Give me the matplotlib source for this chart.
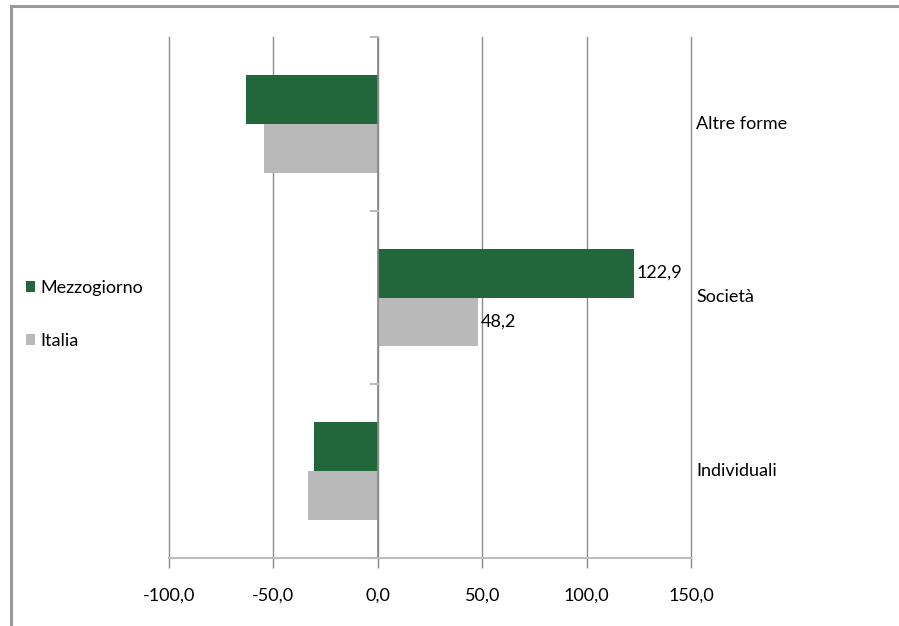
import matplotlib
matplotlib.use("Agg")
import matplotlib.pyplot as plt
from matplotlib.lines import Line2D
from matplotlib.patches import Patch

categories = ["Individuali", "Società", "Altre forme"]
mezzogiorno = [-30.5, 122.9, -63.2]
italia = [-33.5, 48.2, -54.7]
series_names = ["Mezzogiorno", "Italia"]
xticks = [-100, -50, 0, 50, 100, 150]
xtick_labels = ["-100,0", "-50,0", "0,0", "50,0", "100,0", "150,0"]

plt.rcParams['font.family'] = ['Lato', 'DejaVu Sans']
FS = 13

W, H = 899, 626
fig = plt.figure(figsize=(W / 100, H / 100), dpi=100)
fig.patch.set_facecolor("white")

# outer frame (left and top visible)
fig.add_artist(Line2D([10.5 / W, 10.5 / W], [0, 1 - 5.5 / H], transform=fig.transFigure,
                      color="#9a9a9a", lw=2.2))
fig.add_artist(Line2D([10.5 / W, 1], [1 - 5.5 / H, 1 - 5.5 / H], transform=fig.transFigure,
                      color="#9a9a9a", lw=2.2))

left, right = 169 / W, 691 / W
top, bottom = 1 - 37 / H, 1 - 558 / H
ax = fig.add_axes([left, bottom, right - left, top - bottom])

green = "#22663b"
gray = "#b9b9b9"
bh = 0.282
y = list(range(len(categories)))
ax.barh([v + bh / 2 for v in y], mezzogiorno, height=bh, color=green, edgecolor="none", zorder=3)
ax.barh([v - bh / 2 for v in y], italia, height=bh, color=gray, edgecolor="none", zorder=3)

ax.set_xlim(-100, 150)
ax.set_ylim(-0.5, 2.5)
ax.set_xticks(xticks)
ax.set_xticklabels(xtick_labels, fontsize=FS)
ax.tick_params(axis="x", length=7, width=1, color="#888888", pad=14)
for xv in xticks:
    ax.axvline(xv, color="#8c8c8c", lw=1, zorder=0, clip_on=False)

for s in ["top", "right", "left"]:
    ax.spines[s].set_visible(False)
ax.spines["bottom"].set_color("#bdbdbd")
ax.spines["bottom"].set_linewidth(1.5)

# zero axis with category-boundary ticks
ax.axvline(0, color="#888888", lw=1.2, zorder=4)
ax.set_yticks([])
for b in [-0.5, 0.5, 1.5, 2.5]:
    ax.plot([-3.3, 0], [b, b], color="#bbbbbb", lw=1.5, zorder=4, clip_on=False)

# category labels on right
for i, c in enumerate(categories):
    ax.text(152.5, i, c, ha="left", va="center", fontsize=FS, clip_on=False)

# data labels for Società
ax.text(mezzogiorno[1] + 1, 1 + bh / 2, "122,9", ha="left", va="center", fontsize=FS, zorder=5)
ax.text(italia[1] + 1, 1 - bh / 2, "48,2", ha="left", va="center", fontsize=FS, zorder=5)

handles = [Patch(facecolor=green, edgecolor="none"), Patch(facecolor=gray, edgecolor="none")]
fig.legend(handles, series_names, loc="upper left", bbox_to_anchor=(26 / W, 1 - 280 / H),
           frameon=False, fontsize=FS, handlelength=0.5, handleheight=0.5, handletextpad=0.3,
           labelspacing=2.05, borderaxespad=0, borderpad=0)

fig.savefig("out.png", dpi=100)
